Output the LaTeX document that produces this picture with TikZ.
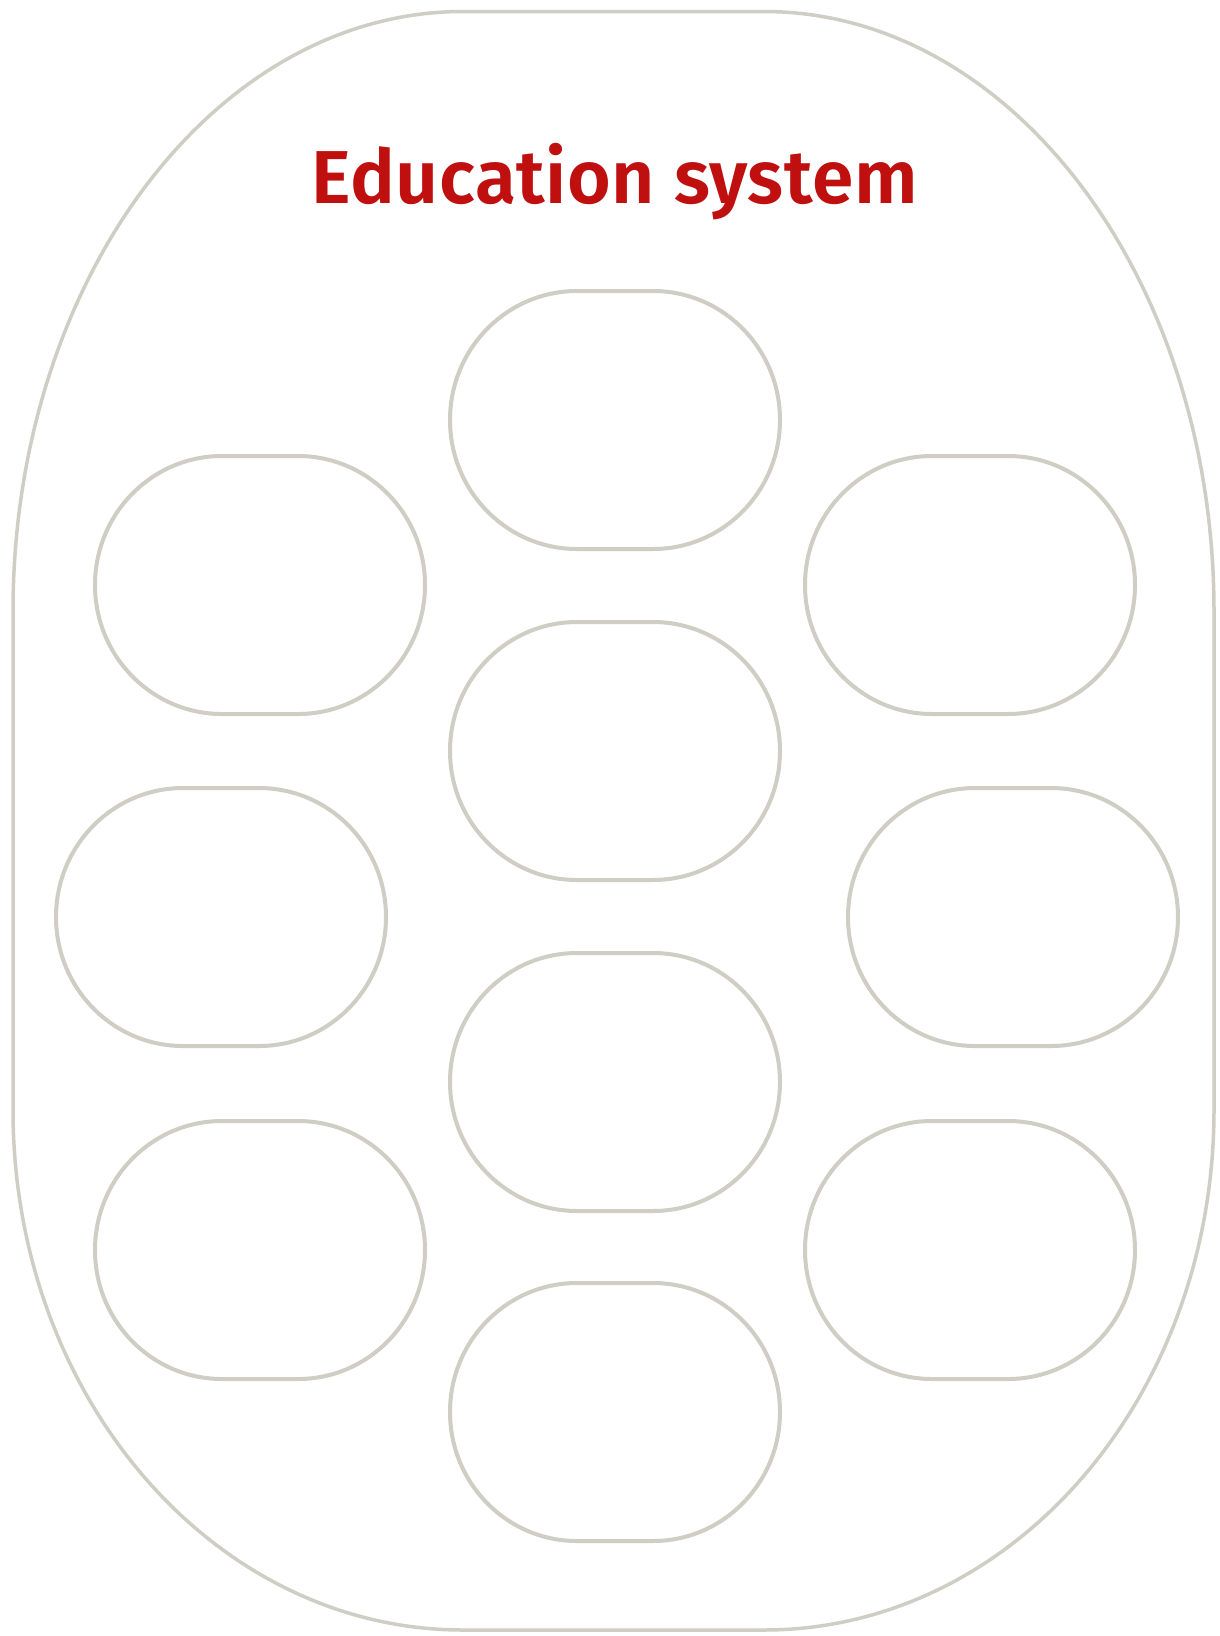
\documentclass[tikz,border=0pt]{standalone}
\usepackage{fontspec}
\setmainfont{Fira Sans}
\newfontfamily\titlefont{Fira Sans SemiBold}[LetterSpace=0.8]
\usetikzlibrary{calc}
\definecolor{shapegray}{HTML}{D0CDC4}
\definecolor{titlered}{HTML}{C00F0F}
\tikzset{
  outerline/.style={draw=shapegray, line width=3.5pt},
  pilline/.style={draw=shapegray, line width=4pt},
  titletext/.style={text=titlered, font=\titlefont\fontsize{75}{90}\selectfont, anchor=base, inner sep=0pt}
}
% pill: straight top/bottom of 76, elliptical ends rx=127, ry=129
\newcommand\mypill[3]{%
  \coordinate (#1) at (#2,#3);
  \draw[pilline] ($(#1)+(-38,-129)$) -- ($(#1)+(38,-129)$)
    arc[start angle=-90, end angle=90, x radius=127, y radius=129]
    -- ($(#1)+(-38,129)$)
    arc[start angle=90, end angle=270, x radius=127, y radius=129] -- cycle;
}
\begin{document}
\begin{tikzpicture}[x=1pt,y=-1pt]
\useasboundingbox (0,0) rectangle (1220,1636);
\fill[white] (0,0) rectangle (1220,1636);
% outer frame
\coordinate (otl) at (463,11.5);
\coordinate (otr) at (764,11.5);
\coordinate (obr) at (764,1630);
\coordinate (obl) at (463,1630);
\draw[outerline] (otl) -- (otr)
  arc[start angle=-90, end angle=0, x radius=450, y radius=600]
  -- (1214,1110)
  arc[start angle=0, end angle=90, x radius=450, y radius=520]
  -- (obl)
  arc[start angle=90, end angle=180, x radius=450, y radius=520]
  -- (13,611.5)
  arc[start angle=180, end angle=270, x radius=450, y radius=600] -- cycle;
\node[titletext] (title) at (614.5,203) {Education system};
\mypill{c1}{615}{420}
\mypill{l1}{260}{585}
\mypill{r1}{970}{585}
\mypill{c2}{615}{751}
\mypill{l2}{221}{917}
\mypill{r2}{1013}{917}
\mypill{c3}{615}{1082}
\mypill{l3}{260}{1250}
\mypill{r3}{970}{1250}
\mypill{c4}{615}{1412}
\end{tikzpicture}
\end{document}
